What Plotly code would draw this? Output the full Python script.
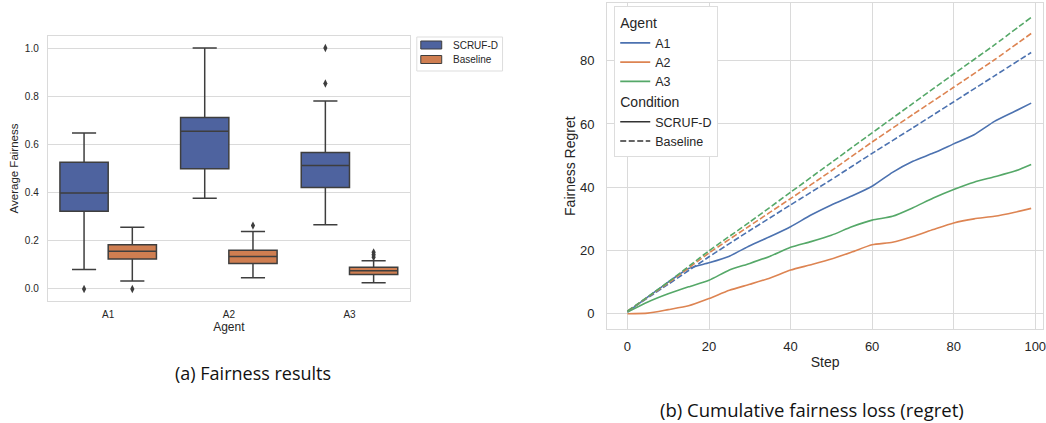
import plotly.graph_objects as go

# ---------------- data: panel (a) box statistics ----------------
agents = ["A1", "A2", "A3"]
box_series = ["SCRUF-D", "Baseline"]

scruf_q1 = [0.323, 0.499, 0.421]
scruf_median = [0.398, 0.655, 0.512]
scruf_q3 = [0.526, 0.712, 0.566]
scruf_lower = [0.081, 0.377, 0.266]
scruf_upper = [0.647, 1.000, 0.780]
scruf_outliers = [[0.0], [], [1.0, 0.853]]

base_q1 = [0.124, 0.106, 0.060]
base_median = [0.156, 0.135, 0.076]
base_q3 = [0.184, 0.161, 0.090]
base_lower = [0.033, 0.046, 0.026]
base_upper = [0.256, 0.238, 0.117]
base_outliers = [[0.0], [0.263], [0.152, 0.142, 0.132]]

# ---------------- data: panel (b) cumulative regret ----------------
steps_solid = [0, 5, 10, 15, 20, 25, 30, 35, 40, 45, 50, 55, 60, 65, 70, 75, 80, 85, 90, 95, 99]
a1_scruf = [0.5, 5.3, 10.0, 14.3, 16.1, 18.2, 21.5, 24.4, 27.5, 31.2, 34.4, 37.2, 40.3, 44.7, 48.2, 50.8, 53.7, 56.6, 60.8, 64.0, 66.6]
a2_scruf = [0.0, 0.2, 1.3, 2.5, 4.8, 7.4, 9.3, 11.3, 13.8, 15.5, 17.3, 19.5, 21.8, 22.6, 24.4, 26.6, 28.7, 30.0, 30.8, 32.1, 33.3]
a3_scruf = [0.5, 3.7, 6.3, 8.5, 10.6, 13.8, 15.9, 18.2, 21.0, 22.8, 24.8, 27.5, 29.6, 30.8, 33.5, 36.6, 39.3, 41.6, 43.3, 45.1, 47.2]

steps_base = [0, 10, 20, 30, 40, 50, 60, 70, 80, 90, 99]
a1_base = [0.8, 9.3, 18.0, 26.3, 34.4, 42.4, 50.7, 58.8, 67.0, 75.2, 82.6]
a2_base = [0.8, 9.7, 19.2, 27.8, 36.4, 45.2, 54.3, 63.0, 71.6, 80.3, 88.6]
a3_base = [0.8, 10.0, 19.9, 29.0, 38.4, 47.8, 57.2, 66.5, 75.8, 85.0, 93.7]

left_yticks = [0.0, 0.2, 0.4, 0.6, 0.8, 1.0]
right_xticks = [0, 20, 40, 60, 80, 100]
right_yticks = [0, 20, 40, 60, 80]

# ---------------- styling ----------------
W, H = 1046, 423
BOX_FILL = {"SCRUF-D": "#4E639F", "Baseline": "#CF7E51"}
LINE_COL = {"A1": "#4C72B0", "A2": "#DD8452", "A3": "#55A868"}
EDGE = "#3E3E3E"
GRID = "#DADADA"
TXT = "#262626"
SANS = "Liberation Sans, Arial, sans-serif"
CAPTION = "Open Sans, sans-serif"


def px(x):
    return x / W


def py(y):
    return 1 - y / H


fig = go.Figure()

# ---------- panel (a) ----------
box_stats = {
    "SCRUF-D": (scruf_q1, scruf_median, scruf_q3, scruf_lower, scruf_upper, scruf_outliers),
    "Baseline": (base_q1, base_median, base_q3, base_lower, base_upper, base_outliers),
}
offsets = {"SCRUF-D": -0.2, "Baseline": 0.2}
for name in box_series:
    q1, med, q3, lo, hi, outs = box_stats[name]
    pos = [i + offsets[name] for i in range(len(agents))]
    fig.add_trace(go.Box(
        x=pos, q1=q1, median=med, q3=q3, lowerfence=lo, upperfence=hi,
        width=0.4, whiskerwidth=0.5, name=name, showlegend=False,
        fillcolor=BOX_FILL[name], line=dict(color=EDGE, width=1.5),
        boxpoints=False, xaxis="x", yaxis="y",
        hoverinfo="skip",
    ))
    ox, oy = [], []
    for i, vals in enumerate(outs):
        for v in vals:
            ox.append(i + offsets[name])
            oy.append(v)
    fig.add_trace(go.Scatter(
        x=ox, y=oy, mode="markers", showlegend=False,
        marker=dict(symbol="diamond-tall", size=6, color=EDGE),
        xaxis="x", yaxis="y", hoverinfo="skip",
    ))

# ---------- panel (b) ----------
solid = {"A1": a1_scruf, "A2": a2_scruf, "A3": a3_scruf}
dashed = {"A1": a1_base, "A2": a2_base, "A3": a3_base}
for ag in agents:
    fig.add_trace(go.Scatter(
        x=steps_solid, y=solid[ag], mode="lines", showlegend=False,
        line=dict(color=LINE_COL[ag], width=1.6, shape="spline", smoothing=0.6),
        xaxis="x2", yaxis="y2", hoverinfo="skip",
    ))
for ag in agents:
    fig.add_trace(go.Scatter(
        x=steps_base, y=dashed[ag], mode="lines", showlegend=False,
        line=dict(color=LINE_COL[ag], width=1.6, dash="6px,2.5px", shape="spline", smoothing=0.4),
        xaxis="x2", yaxis="y2", hoverinfo="skip",
    ))

# legend entries for panel (b)
for k, ag in enumerate(agents):
    fig.add_trace(go.Scatter(
        x=[None], y=[None], mode="lines", name=ag,
        line=dict(color=LINE_COL[ag], width=1.6),
        legend="legend2", legendgroup="agent",
        legendgrouptitle=dict(text="Agent", font=dict(size=14, color=TXT, family=SANS)) if k == 0 else None,
        xaxis="x2", yaxis="y2",
    ))
for k, (cond, dash) in enumerate([("SCRUF-D", "solid"), ("Baseline", "6px,2.5px")]):
    fig.add_trace(go.Scatter(
        x=[None], y=[None], mode="lines", name=cond,
        line=dict(color="#333333", width=1.6, dash=dash),
        legend="legend2", legendgroup="cond",
        legendgrouptitle=dict(text="Condition", font=dict(size=14, color=TXT, family=SANS)) if k == 0 else None,
        xaxis="x2", yaxis="y2",
    ))

# ---------- legend for panel (a), drawn as a compact key ----------
shapes = [dict(type="rect", xref="paper", yref="paper",
               x0=px(418), x1=px(504), y0=py(71), y1=py(37),
               line=dict(color="#DDDDDD", width=1), fillcolor="white", layer="above")]
annotations = []
for k, name in enumerate(box_series):
    yc = 45 + 14.5 * k
    shapes.append(dict(type="rect", xref="paper", yref="paper",
                       x0=px(422), x1=px(443), y0=py(yc + 4), y1=py(yc - 4),
                       line=dict(color=EDGE, width=1), fillcolor=BOX_FILL[name], layer="above"))
    annotations.append(dict(text=name, x=px(452), y=py(yc), xref="paper", yref="paper",
                            showarrow=False, xanchor="left", yanchor="middle",
                            font=dict(family=SANS, size=10, color=TXT)))

annotations += [
    dict(text="(a) Fairness results", x=px(254), y=py(373), xref="paper", yref="paper",
         showarrow=False, font=dict(family=CAPTION, size=18, color="#111111"),
         xanchor="center", yanchor="middle"),
    dict(text="(b) Cumulative fairness loss (regret)", x=px(814), y=py(409), xref="paper", yref="paper",
         showarrow=False, font=dict(family=CAPTION, size=18.5, color="#111111"),
         xanchor="center", yanchor="middle"),
]

axis_common = dict(showgrid=True, gridcolor=GRID, gridwidth=1.2, showline=True,
                   linecolor=GRID, linewidth=1.2, mirror=True, zeroline=False,
                   ticks="", color=TXT)

fig.update_layout(
    width=W, height=H,
    margin=dict(l=0, r=0, t=0, b=0),
    paper_bgcolor="white", plot_bgcolor="white",
    font=dict(family=SANS, color=TXT),
    showlegend=True,
    xaxis=dict(axis_common, domain=[px(48), px(411)], range=[-0.5, 2.5],
               tickvals=list(range(len(agents))), ticktext=agents,
               tickfont=dict(size=10), showgrid=False, ticklabelstandoff=4,
               title=dict(text="Agent", font=dict(size=12), standoff=2),
               anchor="y"),
    yaxis=dict(axis_common, domain=[py(301), py(36)], range=[-0.05, 1.05],
               tickvals=left_yticks, tickformat=".1f", tickfont=dict(size=10),
               ticklabelstandoff=6,
               title=dict(text="Average Fairness", font=dict(size=11.5), standoff=3),
               anchor="x"),
    xaxis2=dict(axis_common, domain=[px(609), 1.0], range=[-4.95, 101.9],
                tickvals=right_xticks, tickfont=dict(size=13), ticklabelstandoff=5,
                ticklabeloverflow="allow",
                title=dict(text="Step", font=dict(size=14), standoff=4),
                anchor="y2"),
    yaxis2=dict(axis_common, domain=[py(329.3), py(3)], range=[-4.93, 98.25],
                tickvals=right_yticks, tickfont=dict(size=13), ticklabelstandoff=9,
                title=dict(text="Fairness Regret", font=dict(size=14), standoff=1),
                anchor="x2"),
    boxmode="overlay",
    legend2=dict(x=px(616), y=py(6), xanchor="left", yanchor="top",
                 bgcolor="white", bordercolor="#DDDDDD", borderwidth=1,
                 font=dict(size=12.5, color=TXT), tracegroupgap=0, itemwidth=30,
                 groupclick="toggleitem"),
    shapes=shapes,
    annotations=annotations,
)

fig.write_html("out.html", config={"displayModeBar": False},
               post_script="document.body.style.margin='0';")
